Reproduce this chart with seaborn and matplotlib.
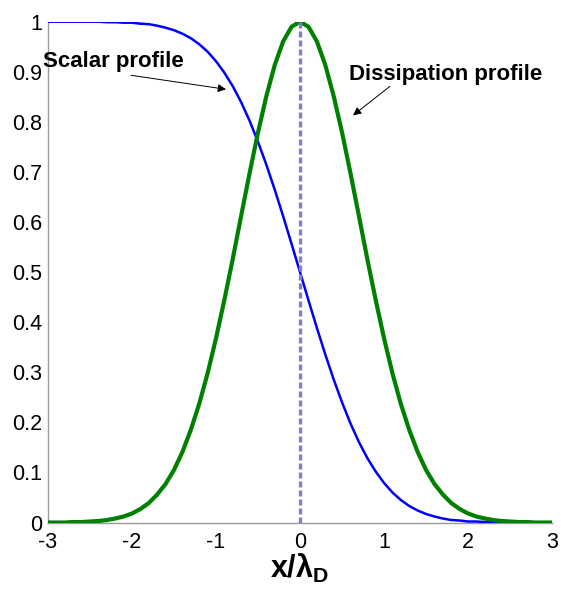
import matplotlib
matplotlib.use("Agg")
import matplotlib.pyplot as plt
import seaborn as sns
import pandas as pd

# Normalised coordinate x / lambda_D
x_vals = [round(-3.0 + 0.1 * i, 1) for i in range(61)]

# Scalar profile (falls from 1 to 0 across the layer)
scalar = [
    1.000, 1.000, 1.000, 1.000, 1.000, 1.000, 1.000, 0.999, 0.999, 0.998,
    0.998, 0.996, 0.995, 0.992, 0.988, 0.983, 0.976, 0.967, 0.955, 0.940,
    0.921, 0.898, 0.871, 0.839, 0.802, 0.760, 0.714, 0.664, 0.611, 0.556,
    0.500,
    0.444, 0.389, 0.336, 0.286, 0.240, 0.198, 0.161, 0.129, 0.102, 0.079,
    0.060, 0.045, 0.033, 0.024, 0.017, 0.012, 0.008, 0.005, 0.004, 0.002,
    0.002, 0.001, 0.001, 0.000, 0.000, 0.000, 0.000, 0.000, 0.000, 0.000,
]

# Dissipation profile (peaked at the centre of the layer)
dissipation = [
    0.000, 0.000, 0.000, 0.001, 0.001, 0.002, 0.003, 0.005, 0.008, 0.012,
    0.018, 0.027, 0.039, 0.056, 0.077, 0.105, 0.141, 0.185, 0.237, 0.298,
    0.368, 0.445, 0.527, 0.613, 0.698, 0.779, 0.852, 0.914, 0.961, 0.990,
    1.000,
    0.990, 0.961, 0.914, 0.852, 0.779, 0.698, 0.613, 0.527, 0.445, 0.368,
    0.298, 0.237, 0.185, 0.141, 0.105, 0.077, 0.056, 0.039, 0.027, 0.018,
    0.012, 0.008, 0.005, 0.003, 0.002, 0.001, 0.001, 0.000, 0.000, 0.000,
]

x_ticks = [-3, -2, -1, 0, 1, 2, 3]
x_tick_labels = ["-3", "-2", "-1", "0", "1", "2", "3"]
y_ticks = [0, 0.1, 0.2, 0.3, 0.4, 0.5, 0.6, 0.7, 0.8, 0.9, 1.0]
y_tick_labels = ["0", "0.1", "0.2", "0.3", "0.4", "0.5", "0.6", "0.7", "0.8", "0.9", "1"]

centre_x = [0, 0]
centre_y = [0, 1]

df = pd.DataFrame({"x": x_vals, "scalar": scalar, "dissipation": dissipation})
centre = pd.DataFrame({"x": centre_x, "y": centre_y})

sns.set_theme(style="white")
plt.rcParams["font.family"] = ["Liberation Sans", "DejaVu Sans"]
plt.rcParams["text.color"] = "black"
plt.rcParams["axes.labelcolor"] = "black"
plt.rcParams["mathtext.fontset"] = "custom"
plt.rcParams["mathtext.rm"] = "Liberation Sans"
plt.rcParams["mathtext.bf"] = "Liberation Sans:bold"
plt.rcParams["mathtext.it"] = "Liberation Sans:italic"

fig = plt.figure(figsize=(5.61, 5.96), dpi=100)
ax = fig.add_axes([0.0856, 0.1233, 0.8984, 0.8403])

sns.lineplot(data=df, x="x", y="scalar", ax=ax, color="#0000FF", lw=1.8, zorder=3)
sns.lineplot(data=df, x="x", y="dissipation", ax=ax, color="#008000", lw=3.0, zorder=3)
sns.lineplot(data=centre, x="x", y="y", ax=ax, color="#8080CC", lw=2.4,
             linestyle=(0, (1.8, 0.9)), estimator=None, sort=False, zorder=4)

ax.set_xlim(-3, 3)
ax.set_ylim(0, 1)
ax.set_xticks(x_ticks)
ax.set_xticklabels(x_tick_labels)
ax.set_yticks(y_ticks)
ax.set_yticklabels(y_tick_labels)

for side in ("top", "right"):
    ax.spines[side].set_visible(False)
for side in ("left", "bottom"):
    ax.spines[side].set_color("#999999")
    ax.spines[side].set_linewidth(1.0)

ax.tick_params(axis="both", direction="in", length=4, width=0.8, color="#999999",
               labelsize=15.5, labelcolor="black")
ax.tick_params(axis="x", pad=7)
ax.tick_params(axis="y", pad=4)

ax.set_ylabel("")
ax.set_xlabel(r"$\mathbf{x/\lambda_D}$", fontsize=22, labelpad=-1)

# Curve labels with pointers
ax.text(-3.06, 0.921, "Scalar profile", fontsize=16, fontweight="bold",
        color="black", ha="left", va="center", zorder=5)
ax.text(0.583, 0.895, "Dissipation profile", fontsize=16, fontweight="bold",
        color="black", ha="left", va="center", zorder=5)

arrow = dict(arrowstyle="-|>", color="black", lw=0.7, mutation_scale=12,
             shrinkA=0, shrinkB=0)
ax.annotate("", xy=(-0.881, 0.865), xytext=(-2.012, 0.893), arrowprops=arrow)
ax.annotate("", xy=(0.631, 0.813), xytext=(1.071, 0.871), arrowprops=arrow)

fig.savefig("out.png", dpi=100)
